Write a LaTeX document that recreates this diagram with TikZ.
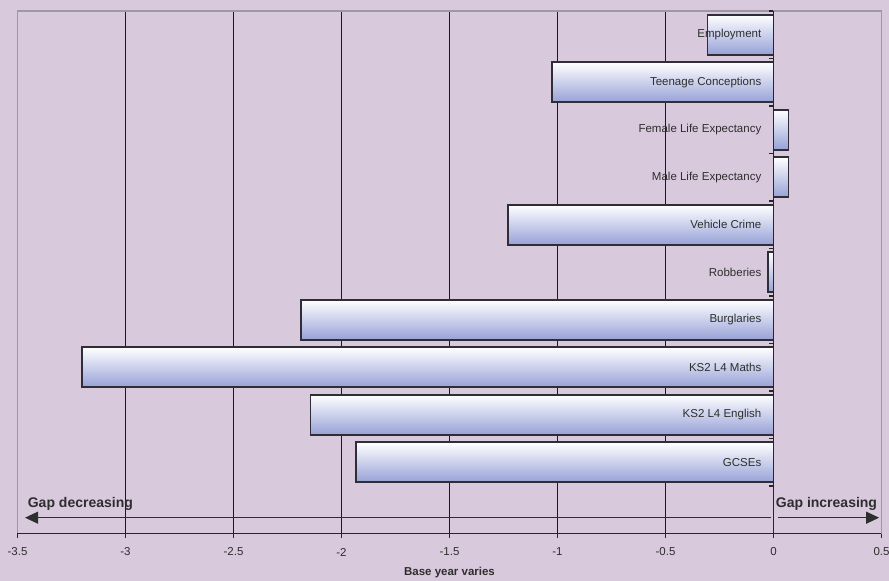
\documentclass[tikz,border=0pt]{standalone}
\usepackage{fontspec}
\setmainfont{Liberation Sans}
\usetikzlibrary{arrows.meta}
\definecolor{chartbg}{HTML}{D9C9DD}
\definecolor{barblue}{HTML}{97A1D7}
\definecolor{barline}{HTML}{2F2E36}
\definecolor{frameline}{HTML}{9C98A8}
\definecolor{inktext}{HTML}{2E2E2E}
\tikzstyle{gapbar}=[draw=barline, line width=1.7pt, top color=white, bottom color=barblue]
\tikzstyle{gridline}=[draw=black!90, line width=1.2pt]
\tikzstyle{axisline}=[draw=black!85, line width=1.2pt]
\tikzstyle{catlabel}=[anchor=east, inner sep=0pt, text=inktext, font=\fontsize{11.5}{13}\selectfont]
\tikzstyle{ticklabel}=[inner sep=0pt, text=inktext, font=\fontsize{11.5}{13}\selectfont]
\tikzstyle{gaplabel}=[anchor=base west, inner sep=0pt, text=inktext, font=\fontsize{14}{16}\selectfont\bfseries]
\tikzstyle{gaparrow}=[draw=inktext, line width=1pt, -{Triangle[length=13pt,width=12pt]}]

\begin{document}
\begin{tikzpicture}[x=216pt, y=-47.5pt]
\useasboundingbox[fill=chartbg] (-773.5pt,11pt) rectangle (115.5pt,-570pt);
% grid
\foreach \v in {-3,-2.5,-2,-1.5,-1,-0.5}
  \draw[gridline] (\v,0) -- (\v,11);
\draw[frameline, line width=1.5pt] (-3.5,11) -- (-3.5,0) -- (0.5,0) -- (0.5,11);
% bars
\foreach \val/\name [count=\i from 0] in {-0.305/Employment, -1.024/Teenage Conceptions,
    0.069/Female Life Expectancy, 0.069/Male Life Expectancy, -1.23/Vehicle Crime,
    -0.024/Robberies, -2.186/Burglaries, -3.201/KS2 L4 Maths, -2.143/KS2 L4 English,
    -1.934/GCSEs}
  \shadedraw[gapbar] (0,\i+0.08) rectangle (\val,\i+0.92);
% axes
\draw[axisline] (0,0) -- (0,11);
\draw[axisline] (-3.5,11) -- (0.5,11);
\foreach \i in {0,...,10}
  \draw[axisline] (0,\i) -- ++(-4pt,0);
\foreach \v [count=\k] in {-3.5,-3,-2.5,-2,-1.5,-1,-0.5,0,0.5} {
  \draw[axisline] (\v,11) -- ++(0,-4pt);
  \node[ticklabel, yshift=-18.5pt] (t\k) at (\v,11) {\v};
}
\node[ticklabel, font=\fontsize{11.5}{13}\selectfont\bfseries, yshift=-39.5pt] (base) at (-1.5,11) {Base year varies};
% labels
\foreach \name [count=\i from 0] in {Employment, Teenage Conceptions,
    Female Life Expectancy, Male Life Expectancy, Vehicle Crime, Robberies,
    Burglaries, KS2 L4 Maths, KS2 L4 English, GCSEs}
  \node[catlabel] (c\i) at ([xshift=-12pt]0,\i+0.5) {\name};
% gap arrows
\coordinate (decfrom) at (-0.012,10.667);
\coordinate (decto) at (-3.465,10.667);
\coordinate (incfrom) at (0.021,10.667);
\coordinate (incto) at (0.489,10.667);
\draw[gaparrow] (decfrom) -- (decto);
\draw[gaparrow] (incfrom) -- (incto);
\node[gaplabel] (dec) at (-3.453,10.457) {Gap decreasing};
\node[gaplabel] (inc) at (0.0102,10.457) {Gap increasing};
\end{tikzpicture}
\end{document}
